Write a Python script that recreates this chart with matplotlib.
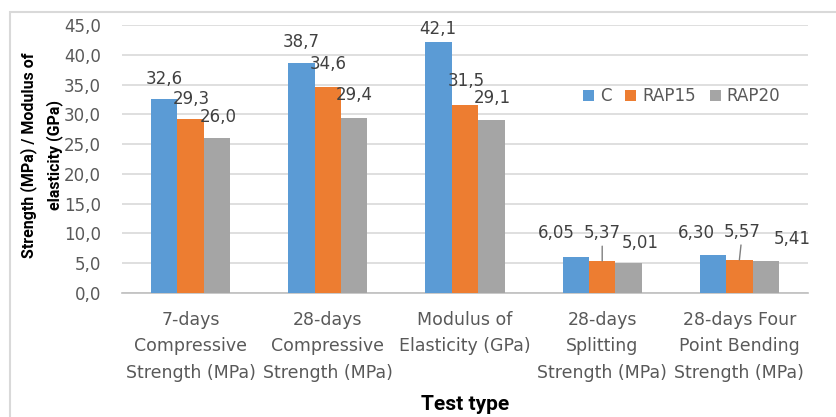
import matplotlib
matplotlib.use("Agg")
import matplotlib.pyplot as plt
from matplotlib.patches import Rectangle
import numpy as np

categories = ["7-days\nCompressive\nStrength (MPa)",
              "28-days\nCompressive\nStrength (MPa)",
              "Modulus of\nElasticity (GPa)",
              "28-days\nSplitting\nStrength (MPa)",
              "28-days Four\nPoint Bending\nStrength (MPa)"]
series_names = ["C", "RAP15", "RAP20"]
values_C = [32.6, 38.7, 42.1, 6.05, 6.30]
values_RAP15 = [29.3, 34.6, 31.5, 5.37, 5.57]
values_RAP20 = [26.0, 29.4, 29.1, 5.01, 5.41]
label_fmt = ["{:.1f}", "{:.1f}", "{:.1f}", "{:.2f}", "{:.2f}"]
yticks = np.arange(0, 46, 5)

colors = ["#5B9BD5", "#ED7D31", "#A5A5A5"]
# label offsets in pixels (dx, dy) for layout
offsets = [
    [(0, 20), (0, 21), (-1, 13), (-20, 24), (-17, 22)],
    [(1, 20), (0, 23), (1, 24), (0, 28), (3, 28)],
    [(1, 21), (0, 23), (1, 22), (12, 20), (27, 22)],
]
leaders = {(1, 3), (1, 4)}

TXT = "#595959"
NUMF = ["DejaVu Sans"]
CATF = ["DejaVu Sans"]
TITF = ["Roboto", "DejaVu Sans"]

fig = plt.figure(figsize=(8.37, 4.17), dpi=100)
ax = fig.add_axes([122/837, 1-293/417, (808-122)/837, (293-25)/417])

x = np.arange(len(categories))
w = 0.192
all_vals = [values_C, values_RAP15, values_RAP20]
for i, (name, vals, c) in enumerate(zip(series_names, all_vals, colors)):
    pos = x + (i - 1) * w
    ax.bar(pos, vals, width=w, color=c, label=name, zorder=3)
    for j, v in enumerate(vals):
        dx, dy = offsets[i][j]
        kw = {}
        if (i, j) in leaders:
            kw["arrowprops"] = dict(arrowstyle="-", color="#7f7f7f", lw=1.0,
                                    shrinkA=1, shrinkB=0)
        ax.annotate(label_fmt[j].format(v).replace(".", ","), xy=(pos[j], v),
                    xytext=(dx, dy), textcoords="offset pixels",
                    ha="center", va="center", fontsize=12, color="#404040",
                    family=NUMF, zorder=5, **kw)

ax.set_xlim(-0.5, len(categories) - 0.5)
ax.set_ylim(0, 45)
ax.set_yticks(yticks)
ax.set_yticklabels([f"{t:.1f}".replace(".", ",") for t in yticks],
                   fontsize=12, color=TXT, family=NUMF)
ax.set_xticks(x)
ax.set_xticklabels(categories, fontsize=12.5, color=TXT, family=CATF,
                   linespacing=1.6)
ax.tick_params(axis="y", length=0, pad=15)
ax.tick_params(axis="x", length=0, pad=13)
ax.grid(axis="y", color="#d9d9d9", lw=1.2, zorder=0)
for s in ["top", "right", "left"]:
    ax.spines[s].set_visible(False)
ax.spines["bottom"].set_color("#bfbfbf")
ax.spines["bottom"].set_linewidth(1.2)

fig.text(465/837, 1-405/417, "Test type", fontsize=15, fontweight="bold",
         family=TITF, ha="center", va="center")
fig.text(41.5/837, 1-155/417, "Strength (MPa) / Modulus of\nelasticity (GPa)",
         fontsize=11.5, fontweight="bold", family=TITF, rotation=90,
         ha="center", va="center", multialignment="center", linespacing=1.7)

leg = ax.legend(loc="upper left", bbox_to_anchor=((583-122)/686, (293-87)/268),
                ncol=3, frameon=False, fontsize=12, handlelength=0.65,
                handleheight=0.65, handletextpad=0.35, columnspacing=0.85,
                borderpad=0, borderaxespad=0)
for t in leg.get_texts():
    t.set_color(TXT)

fig.patches.append(Rectangle((10/837, -0.05), 1.0, 1.05 - 12/417,
                             transform=fig.transFigure, fill=False,
                             edgecolor="#d9d9d9", lw=1.5))
fig.savefig("out.png", dpi=100)
